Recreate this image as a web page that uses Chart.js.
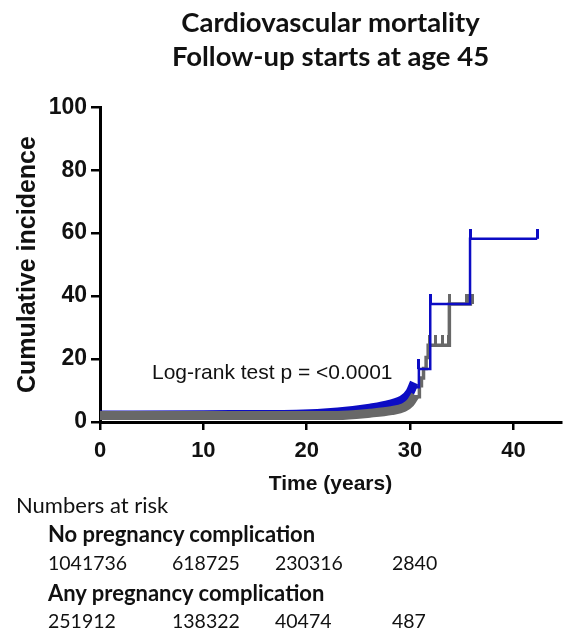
<!DOCTYPE html>
<html>
<head>
<meta charset="utf-8">
<script src="https://cdn.jsdelivr.net/npm/chart.js@4"></script>
<style>
  body { margin: 0; background: #fff; }
  #wrap { position: relative; width: 567px; height: 631px; }
  #wrap canvas { position: absolute; left: 0; top: 0; }
  .txt { position: absolute; white-space: nowrap; color: #111; }
  .risk { font-family: Lato, sans-serif; font-size: 22px; line-height: 22px; }
  .num { font-family: Lato, sans-serif; font-size: 19.5px; line-height: 20px; }
  .b { font-weight: bold; }
  #logrank { font-family: 'Liberation Sans', Arial, sans-serif; font-size: 21px; line-height: 22px; }
</style>
</head>
<body>
<div id="wrap">
  <canvas id="kmChart"></canvas>
  <div id="logrank" class="txt" style="left:152px; top:361px;">Log-rank test p = &lt;0.0001</div>
  <div id="riskTable"></div>
</div>
<script>
// title / axis text
const titleLines = ['Cardiovascular mortality', 'Follow-up starts at age 45'];
const xTitle = 'Time (years)';
const yTitle = 'Cumulative incidence';
const xTickValues = [0, 10, 20, 30, 40];

// dense early part of each curve (censor marks packed into a band)
const blueBandTime  = [0, 10, 15, 19, 23, 26.1, 28, 29.4, 30, 30.4];
const blueBandValue = [2.2, 2.3, 2.4, 2.5, 3.2, 4.4, 5.6, 7.4, 9.5, 12.5];
const grayBandTime  = [0, 10, 19, 23, 26.1, 28.2, 29.4, 30, 30.5];
const grayBandValue = [2.1, 2.1, 2.1, 2.1, 2.8, 3.6, 4.6, 6, 8.5];

// step part after ~30 years
const blueStepTime  = [30.3, 30.85, 31.95, 35.8, 42.3];
const blueStepValue = [11, 16.8, 37.5, 58.2, 58.2];
const grayStepTime  = [30.45, 30.9, 31.1, 31.3, 31.55, 31.75, 33.8, 36.0];
const grayStepValue = [8, 11.5, 14, 17, 20.5, 24.4, 37.5, 37.5];

// censor marks
const blueCensorTime  = [30.85, 31.95, 35.8, 42.3];
const blueCensorValue = [16.8, 37.5, 58.2, 58.2];
const grayCensorTime  = [31.9, 32.5, 33.1, 33.7, 33.8, 35.5, 35.7, 35.85, 36.0];
const grayCensorValue = [24.4, 24.4, 24.4, 24.4, 37.5, 37.5, 37.5, 37.5, 37.5];

// numbers at risk
const groupNames = ['No pregnancy complication', 'Any pregnancy complication'];
const riskNoComplication  = [1041736, 618725, 230316, 2840];
const riskAnyComplication = [251912, 138322, 40474, 487];

const BLUE = 'rgb(12,12,196)';
const GRAY = 'rgb(104,104,104)';
const AXIS_FONT = "'Liberation Sans', Arial, sans-serif";

function pts(xs, ys) {
    return xs.map((x, i) => ({ x: x, y: ys[i] }));
}

// little vertical tick that sits on top of the point
function makeTick(color, w) {
    const c = document.createElement('canvas');
    c.width = w;
    c.height = 20;
    const g = c.getContext('2d');
    g.fillStyle = color;
    g.fillRect(0, 0, w, 10);
    return c;
}

const ctx = document.getElementById('kmChart');
ctx.width = 567;
ctx.height = 631;

new Chart(ctx, {
    type: 'line',
    data: {
        datasets: [
            {
                type: 'scatter', data: pts(blueCensorTime, blueCensorValue),
                pointStyle: makeTick(BLUE, 3), pointRadius: 5, showLine: false
            },
            {
                data: pts(blueStepTime, blueStepValue), stepped: 'before',
                borderColor: BLUE, borderWidth: 2.5, pointRadius: 0, fill: false
            },
            {
                type: 'scatter', data: pts(grayCensorTime, grayCensorValue),
                pointStyle: makeTick(GRAY, 3), pointRadius: 5, showLine: false
            },
            {
                data: pts(grayStepTime, grayStepValue), stepped: 'before',
                borderColor: GRAY, borderWidth: 3.5, pointRadius: 0, fill: false
            },
            {
                data: pts(grayBandTime, grayBandValue), cubicInterpolationMode: 'monotone',
                borderColor: GRAY, borderWidth: 9, pointRadius: 0, fill: false
            },
            {
                data: pts(blueBandTime, blueBandValue), cubicInterpolationMode: 'monotone',
                borderColor: BLUE, borderWidth: 9, pointRadius: 0, fill: false
            }
        ]
    },
    options: {
        responsive: false,
        animation: false,
        events: [],
        layout: { padding: { top: 0, left: 0, right: 2, bottom: 129 } },
        plugins: {
            legend: { display: false },
            tooltip: { enabled: false },
            title: {
                display: true,
                fullSize: false,
                text: titleLines,
                color: '#111',
                font: { family: 'Lato', weight: 'bold', size: 27.5, lineHeight: 1.24 },
                padding: { top: 6, bottom: 33 }
            }
        },
        scales: {
            x: {
                type: 'linear',
                min: 0,
                max: 44.6,
                afterFit: s => { s.height = 80; },
                afterBuildTicks: s => { s.ticks = xTickValues.map(v => ({ value: v })); },
                ticks: {
                    stepSize: 10,
                    color: '#111',
                    padding: 8,
                    font: { family: AXIS_FONT, weight: 'bold', size: 22 }
                },
                grid: { drawOnChartArea: false, drawTicks: true, tickLength: 8, color: '#000', lineWidth: 2.5 },
                border: { display: true, color: '#000', width: 3 },
                title: {
                    display: true, text: xTitle, color: '#111',
                    font: { family: AXIS_FONT, weight: 'bold', size: 21 },
                    padding: { top: 0, bottom: 5 }
                }
            },
            y: {
                min: 0,
                max: 100,
                afterFit: s => { s.width = 100; },
                ticks: {
                    stepSize: 20,
                    color: '#111',
                    padding: 4,
                    font: { family: AXIS_FONT, weight: 'bold', size: 23 }
                },
                grid: { drawOnChartArea: false, drawTicks: true, tickLength: 9, color: '#000', lineWidth: 2.5 },
                border: { display: true, color: '#000', width: 3 },
                title: {
                    display: true, text: yTitle, color: '#111',
                    font: { family: AXIS_FONT, weight: 'bold', size: 25 },
                    padding: { top: 13, bottom: 0 }
                }
            }
        }
    }
});

// numbers-at-risk table under the axis
const colX = [48, 172, 275, 392];
const table = document.getElementById('riskTable');
function addText(str, left, top, cls) {
    const d = document.createElement('div');
    d.className = 'txt ' + cls;
    d.style.left = left + 'px';
    d.style.top = top + 'px';
    d.textContent = str;
    table.appendChild(d);
}
addText('Numbers at risk', 16, 494, 'risk');
addText(groupNames[0], 48, 523, 'risk b');
riskNoComplication.forEach((n, i) => addText(String(n), colX[i], 553, 'num'));
addText(groupNames[1], 48, 582, 'risk b');
riskAnyComplication.forEach((n, i) => addText(String(n), colX[i], 611, 'num'));
</script>
</body>
</html>
